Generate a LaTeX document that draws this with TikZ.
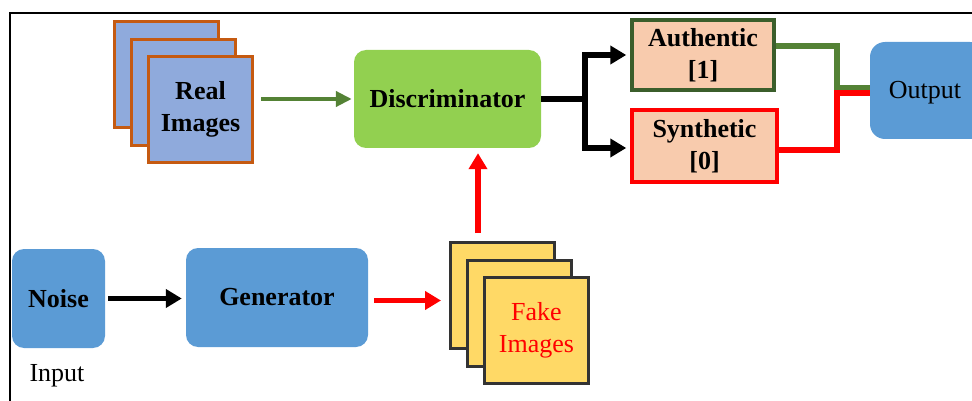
\documentclass[tikz,border=0pt]{standalone}
\usepackage{fontspec}
\setmainfont{Liberation Serif}
\usetikzlibrary{arrows.meta,calc}

\definecolor{realfill}{HTML}{8FAADC}
\definecolor{realedge}{HTML}{C55A11}
\definecolor{discfill}{HTML}{92D050}
\definecolor{labelfill}{HTML}{F8CBAD}
\definecolor{authedge}{HTML}{3B5E2B}
\definecolor{bluebox}{HTML}{5B9BD5}
\definecolor{fakefill}{HTML}{FFD966}
\definecolor{fakeedge}{HTML}{333333}
\definecolor{realgreen}{HTML}{548235}

\tikzset{
  bigtip/.tip={Triangle[length=16pt,width=18pt]},
  txt/.style={font=\fontsize{26}{32}\selectfont, align=center},
  card/.style={txt, draw, line width=3pt, minimum width=104pt, minimum height=106pt,
               anchor=north west, inner sep=0pt},
  realcard/.style={card, fill=realfill, draw=realedge},
  fakecard/.style={card, fill=fakefill, draw=fakeedge},
  roundbox/.style={txt, rounded corners=12pt, inner sep=0pt},
  labelbox/.style={txt, fill=labelfill, line width=3.5pt, inner sep=0pt, font=\fontsize{26}{32}\selectfont\bfseries},
  flow/.style={line width=5.5pt, -{bigtip}},
  link/.style={line width=5.5pt, line join=miter}
}

\begin{document}
\begin{tikzpicture}[x=1pt,y=-1pt]
\useasboundingbox (0,0) rectangle (972,401);
\clip (0,0) rectangle (972,401);

% outer frame
\draw[line width=2.5pt] (10,420) -- (10,13) -- (990,13);

% stack of real images
\node[realcard] (real1) at (113,20) {};
\node[realcard] (real2) at (130,38) {};
\node[realcard] (real3) at (147,55) {\bfseries Real\\\bfseries Images};

% discriminator
\node[roundbox, fill=discfill, minimum width=187pt, minimum height=98pt] (disc) at (447.5,99)
  {\bfseries Discriminator};

% decision boxes
\node[labelbox, draw=authedge, minimum width=142pt, minimum height=70pt] (auth) at (703,55)
  {Authentic\\{[1]}};
\node[labelbox, draw=red, minimum width=145pt, minimum height=72pt] (synth) at (704.5,146)
  {Synthetic\\{[0]}};

% output
\node[roundbox, rounded corners=15pt, fill=bluebox, minimum width=115pt, minimum height=97pt] (out)
  at (927.5,90.5) {};
\node[txt] (outtext) at (925,93) {Output};

% noise and generator
\node[roundbox, fill=bluebox, minimum width=93pt, minimum height=99pt] (noise) at (58.5,298.5)
  {\bfseries Noise};
\node[txt] (input) at (57,376) {Input};
\node[roundbox, fill=bluebox, minimum width=182pt, minimum height=99pt] (gen) at (277,297.5)
  {\bfseries Generator};

% stack of fake images
\node[fakecard] (fake1) at (449,241) {};
\node[fakecard] (fake2) at (466,259) {};
\node[fakecard] (fake3) at (483,276) {\textcolor{red}{Fake}\\\textcolor{red}{Images}};

% real images into the discriminator
\draw[line width=4.5pt, draw=realgreen, -{Triangle[length=16pt,width=15pt]}, shorten <=7pt, shorten >=2pt]
  (real3.east |- disc.west) -- (disc.west);

% discriminator split into the two verdicts
\coordinate (split) at ($(disc.east)+(44,0)$);
\draw[link] (disc.east) -- (split);
\draw[link, {bigtip}-{bigtip}, shorten <=4pt, shorten >=4pt]
  (auth.west) -| (split) |- ([yshift=-2pt]synth.west);

% verdicts into the output
\coordinate (join) at ($(auth.east)+(61,0)$);
\draw[link, draw=realgreen] ([yshift=9pt]auth.east) -| ([yshift=3pt]join |- out.west) -- ([yshift=3pt]out.west);
\draw[link, draw=red] ([yshift=-4pt]synth.east) -| ([yshift=-2.5pt]join |- out.west) -- ([yshift=-2.5pt]out.west);

% noise into the generator
\draw[flow, shorten <=3pt, shorten >=4pt] (noise.east) -- (noise.east -| gen.west);

% generator output to the fake images
\draw[flow, draw=red, shorten <=6pt, shorten >=8pt] ([yshift=-3pt]gen.east) -- ([yshift=-3pt]gen.east -| fake1.west);

% fake images up to the discriminator
\coordinate (fakeup) at ($(fake1.north west)+(29,-8)$);
\draw[flow, draw=red, shorten >=5pt] (fakeup) -- (fakeup |- disc.south);
\end{tikzpicture}
\end{document}
